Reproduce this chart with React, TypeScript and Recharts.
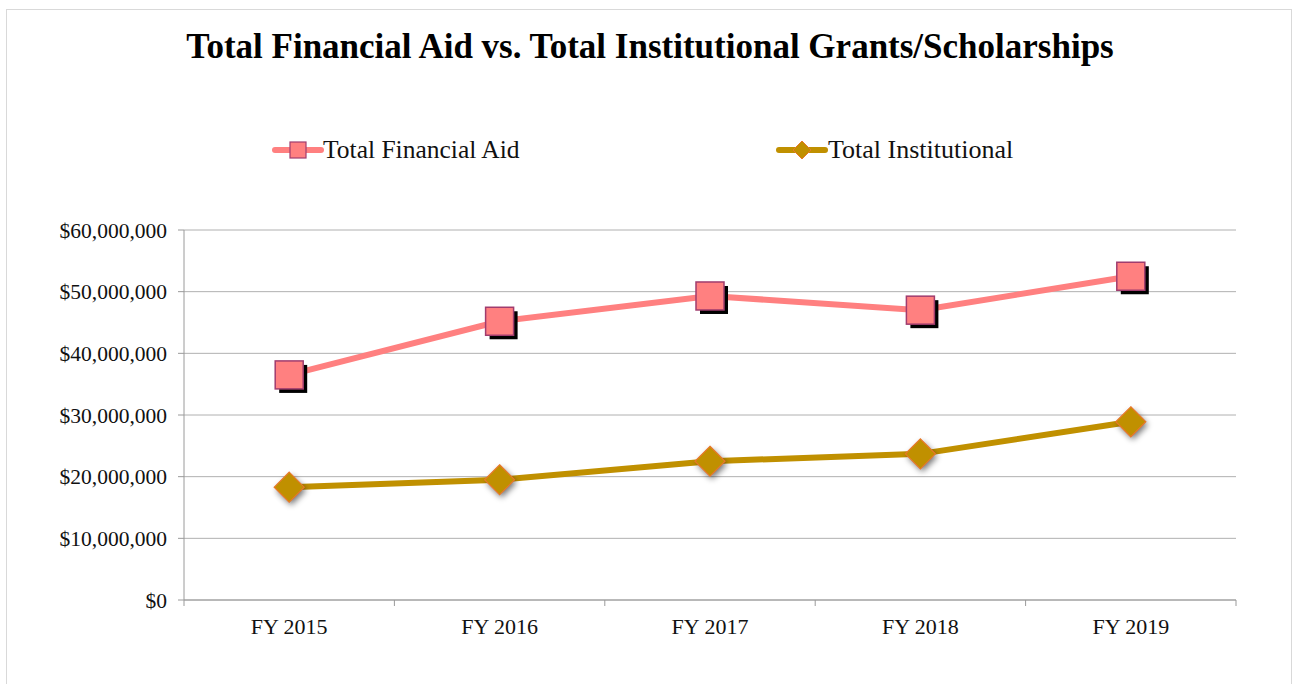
import { LineChart, Line, XAxis, YAxis, CartesianGrid, Legend } from 'recharts';

const years = ['FY 2015', 'FY 2016', 'FY 2017', 'FY 2018', 'FY 2019'];
const totalFinancialAid = [36500000, 45200000, 49300000, 47000000, 52500000];
const totalInstitutional = [18300000, 19500000, 22500000, 23700000, 28900000];
const yTicks = [0, 10000000, 20000000, 30000000, 40000000, 50000000, 60000000];

const data = years.map((year, i) => ({
  year,
  aid: totalFinancialAid[i],
  inst: totalInstitutional[i],
}));

const PINK = '#FF8080';
const GOLD = '#C09000';
const FONT = '"Liberation Serif", "DejaVu Serif", serif';
const AXIS = '#9a9a9a';

const fmt = (v: number) => '$' + v.toLocaleString('en-US');

const SquareDot = (props: any) => {
  const { cx, cy, index } = props;
  const s = 28;
  return (
    <g key={`sq-${index}`}>
      <rect x={cx - s / 2 + 4} y={cy - s / 2 + 4} width={s} height={s} fill="#000" />
      <rect x={cx - s / 2} y={cy - s / 2} width={s} height={s} fill={PINK} stroke="#A03C6E" strokeWidth={1.5} />
    </g>
  );
};

const DiamondDot = (props: any) => {
  const { cx, cy, index } = props;
  const r = 15;
  const pts = (x: number, y: number) => `${x},${y - r} ${x + r},${y} ${x},${y + r} ${x - r},${y}`;
  return (
    <g key={`dm-${index}`}>
      <polygon points={pts(cx + 2, cy + 3)} fill="#000" opacity={0.55} filter="url(#dshadow)" />
      <polygon points={pts(cx, cy)} fill={GOLD} stroke="#E8782A" strokeWidth={1.2} />
    </g>
  );
};

// category label plus tick marks at the band edges
const XTick = (props: any) => {
  const { x, y, payload, index } = props;
  const half = 105.2;
  return (
    <g>
      <line x1={x - half} y1={y - 8} x2={x - half} y2={y - 2} stroke={AXIS} />
      {index === years.length - 1 && <line x1={x + half} y1={y - 8} x2={x + half} y2={y - 2} stroke={AXIS} />}
      <text x={x} y={y + 26} textAnchor="middle" fontFamily={FONT} fontSize={22} fill="#111">
        {payload.value}
      </text>
    </g>
  );
};

const LegendContent = () => (
  <div style={{ position: 'relative', height: 40 }}>
    <svg width={1292} height={40} style={{ position: 'absolute', left: 0, top: 0 }}>
      <line x1={275} y1={20} x2={321} y2={20} stroke={PINK} strokeWidth={6} strokeLinecap="round" />
      <rect x={290} y={12} width={16} height={16} fill={PINK} stroke="#A03C6E" strokeWidth={1.2} />
      <text x={323} y={28} fontFamily={FONT} fontSize={25.5} fill="#111">Total Financial Aid</text>
      <line x1={779} y1={20} x2={825} y2={20} stroke={GOLD} strokeWidth={6} strokeLinecap="round" />
      <polygon points="802,11 811,20 802,29 793,20" fill={GOLD} stroke="#E8782A" strokeWidth={1} />
      <text x={828} y={28} fontFamily={FONT} fontSize={26} fill="#111">Total Institutional</text>
    </svg>
  </div>
);

export default function App() {
  return (
    <div style={{ position: 'absolute', left: 0, top: 0, width: 1292, height: 684, background: '#fff', overflow: 'hidden' }}>
      <div style={{ position: 'absolute', left: 6, top: 9, width: 1284, height: 690, border: '1px solid #d9d9d9' }} />
      <div style={{ position: 'absolute', left: 0, top: 27, width: 1300, textAlign: 'center', fontFamily: FONT, fontWeight: 'bold', fontSize: 35, color: '#000' }}>
        Total Financial Aid vs. Total Institutional Grants/Scholarships
      </div>
      <div style={{ position: 'absolute', left: 0, top: 0 }}>
        <LineChart width={1292} height={684} data={data} margin={{ top: 190, right: 56, bottom: 44, left: 84 }}>
          <defs>
            <filter id="dshadow" x="-50%" y="-50%" width="200%" height="200%">
              <feGaussianBlur stdDeviation={3} />
            </filter>
          </defs>
          <CartesianGrid vertical={false} stroke="#b0b0b0" strokeWidth={1} />
          <XAxis
            dataKey="year"
            scale="band"
            stroke={AXIS}
            tickLine={false}
            tick={<XTick />}
            height={40}
            interval={0}
          />
          <YAxis
            domain={[0, 60000000]}
            ticks={yTicks}
            tickFormatter={fmt}
            stroke={AXIS}
            tickSize={6}
            tickMargin={11}
            tick={{ fontFamily: FONT, fontSize: 21.5, fill: '#111' }}
            width={100}
            interval={0}
          />
          <Legend verticalAlign="top" height={40} content={<LegendContent />} wrapperStyle={{ top: 130, left: 0, width: 1292 }} />
          <Line dataKey="aid" stroke={PINK} strokeWidth={6} dot={<SquareDot />} activeDot={false} isAnimationActive={false} />
          <Line dataKey="inst" stroke={GOLD} strokeWidth={6} dot={<DiamondDot />} activeDot={false} isAnimationActive={false} />
        </LineChart>
      </div>
    </div>
  );
}
